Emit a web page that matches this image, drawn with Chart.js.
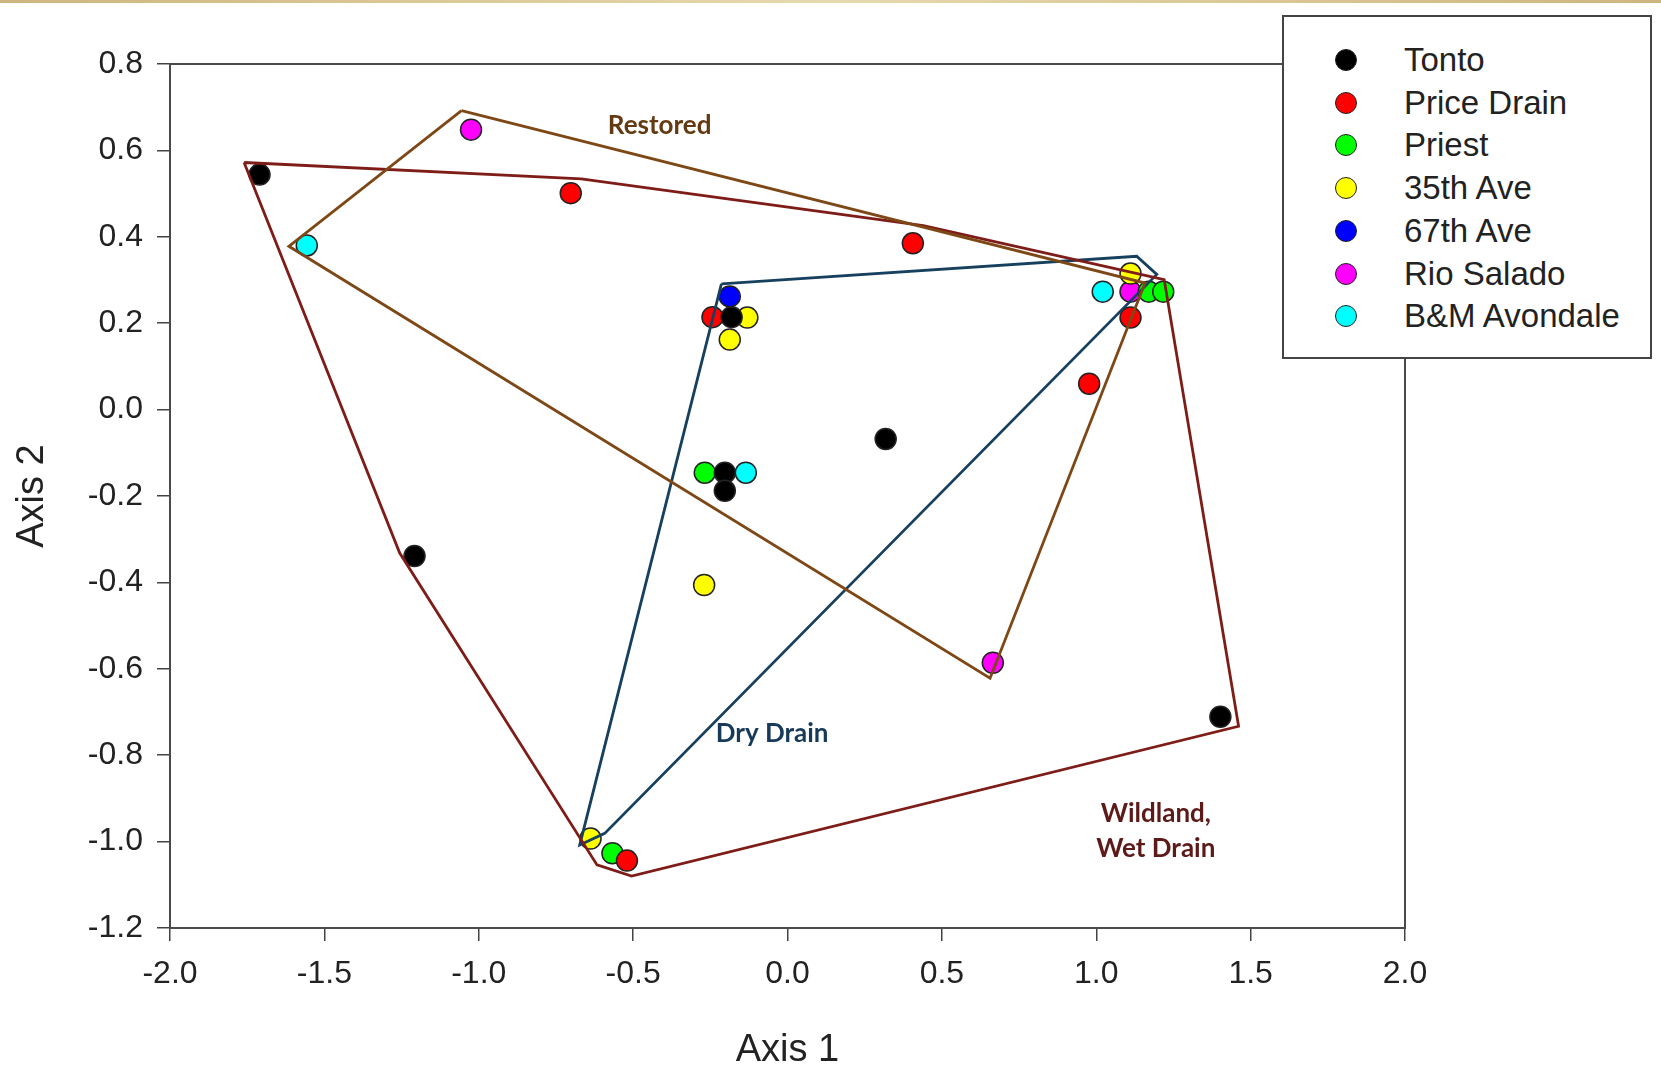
<!DOCTYPE html>
<html>
<head>
<meta charset="utf-8">
<title>Axis 1 / Axis 2</title>
<script src="https://cdn.jsdelivr.net/npm/chart.js@4.4.1/dist/chart.umd.min.js"></script>
<style>
  body { margin: 0; background: #fff; }
  #wrap { position: relative; width: 1661px; height: 1073px; overflow: hidden; }
  #topbar { position: absolute; left: 0; top: 0; width: 1661px; height: 3px;
    background: linear-gradient(to right, #cdb67e, #e6d9ad 50%, #cdb67e); }
  #legend { position: absolute; left: 1282px; top: 15px; width: 370px; height: 344px;
    box-sizing: border-box; border: 2px solid #444; background: #fff;
    font-family: "Liberation Sans", Arial, sans-serif; font-size: 33px; color: #222; }
  .row { position: absolute; left: 0; height: 40px; line-height: 40px; }
  .dot { position: absolute; left: 51px; top: 9px; width: 22px; height: 22px; border-radius: 50%;
    box-sizing: border-box; border: 1.5px solid #222; }
  .lbl { position: absolute; left: 120px; top: 0; white-space: nowrap; }
</style>
</head>
<body>
<div id="wrap">
  <canvas id="myChart" width="1661" height="1073"></canvas>
  <div id="topbar"></div>
  <div id="legend"></div>
</div>
<script>
// site scores, [axis 1, axis 2]
const tonto = [[-1.71, 0.544], [-1.208, -0.339], [-0.181, 0.214], [-0.203, -0.146], [-0.203, -0.188], [0.318, -0.068], [1.402, -0.711]];
const priceDrain = [[-0.702, 0.501], [0.406, 0.385], [-0.243, 0.214], [0.977, 0.06], [1.111, 0.213], [-0.52, -1.044]];
const priest = [[-0.268, -0.146], [-0.567, -1.027], [1.17, 0.273], [1.217, 0.273]];
const ave35 = [[-0.13, 0.213], [-0.187, 0.162], [1.111, 0.315], [-0.27, -0.406], [-0.638, -0.993]];
const ave67 = [[-0.187, 0.262]];
const rioSalado = [[-1.025, 0.648], [1.111, 0.273], [0.665, -0.586]];
const bmAvondale = [[-1.557, 0.38], [-0.135, -0.146], [1.021, 0.273]];

const siteNames = ['Tonto', 'Price Drain', 'Priest', '35th Ave', '67th Ave', 'Rio Salado', 'B&M Avondale'];
const siteData = [tonto, priceDrain, priest, ave35, ave67, rioSalado, bmAvondale];
const siteColors = ['#000000', '#ff0000', '#00ff00', '#ffff00', '#0000ff', '#ff00ff', '#00ffff'];

// group hulls (vertices in axis units)
const restoredHull = [[-1.056, 0.692], [1.158, 0.293], [0.656, -0.622], [-1.615, 0.378]];
const wildlandHull = [[-1.76, 0.572], [-0.668, 0.534], [0.44, 0.426], [1.22, 0.301], [1.461, -0.733], [-0.505, -1.08], [-0.617, -1.054], [-1.256, -0.332]];
const dryDrainHull = [[-0.214, 0.291], [1.131, 0.355], [1.196, 0.313], [-0.592, -0.981], [-0.673, -1.008]];
const hullColors = ['#7e4816', '#7e1c18', '#17405f'];

const groupLabels = [
  { text: 'Restored', x: -0.414, y: 0.658, color: '#643a12' },
  { text: 'Dry Drain', x: -0.05, y: -0.749, color: '#173a5a' },
  { text: 'Wildland,', x: 1.193, y: -0.935, color: '#5c1a18' },
  { text: 'Wet Drain', x: 1.193, y: -1.016, color: '#5c1a18' }
];

const xTicks = [-2.0, -1.5, -1.0, -0.5, 0.0, 0.5, 1.0, 1.5, 2.0];
const yTicks = [-1.2, -1.0, -0.8, -0.6, -0.4, -0.2, 0.0, 0.2, 0.4, 0.6, 0.8];

function toPts(arr) {
    return arr.map(p => ({ x: p[0], y: p[1] }));
}

let datasets = [];
for (i = 0; i < siteNames.length; i++) {
    datasets.push({
        label: siteNames[i],
        data: toPts(siteData[i]),
        backgroundColor: siteColors[i],
        borderColor: '#222',
        borderWidth: 1.5,
        pointRadius: 10.5,
        order: 2
    });
}
[restoredHull, wildlandHull, dryDrainHull].forEach((h, k) => {
    datasets.push({
        label: 'hull' + k,
        data: toPts(h.concat([h[0]])),
        showLine: true,
        borderColor: hullColors[k],
        borderWidth: 2.8,
        pointRadius: 0,
        fill: false,
        tension: 0,
        order: 1
    });
});

// frame around the plot + group names
const framePlugin = {
    id: 'frame',
    beforeDatasetsDraw(chart) {
        const a = chart.chartArea, ctx = chart.ctx;
        ctx.save();
        ctx.strokeStyle = '#4a4a4a';
        ctx.lineWidth = 2;
        ctx.strokeRect(a.left, a.top, a.right - a.left, a.bottom - a.top);
        ctx.restore();
    },
    afterDatasetsDraw(chart) {
        const ctx = chart.ctx;
        ctx.save();
        ctx.font = 'bold 26px Lato, "Open Sans", sans-serif';
        ctx.textAlign = 'center';
        ctx.textBaseline = 'middle';
        groupLabels.forEach(g => {
            ctx.fillStyle = g.color;
            ctx.fillText(g.text, chart.scales.x.getPixelForValue(g.x), chart.scales.y.getPixelForValue(g.y));
        });
        ctx.restore();
    }
};

const chartElement = document.getElementById('myChart');
new Chart(chartElement, {
    type: 'scatter',
    data: { datasets: datasets },
    options: {
        responsive: false,
        animation: false,
        layout: { padding: { left: 0, top: 64, right: 256, bottom: 0 } },
        plugins: { legend: { display: false }, tooltip: { enabled: false } },
        scales: {
            x: {
                min: -2, max: 2,
                afterBuildTicks: s => { s.ticks = xTicks.map(v => ({ value: v })); },
                afterFit: s => { s.height = 145; },
                border: { display: false },
                grid: { drawOnChartArea: false, drawTicks: true, tickLength: 13, color: '#444', lineWidth: 1.5 },
                ticks: { padding: 14, color: '#222', font: { family: '"Liberation Sans", Arial', size: 32 },
                    callback: v => v.toFixed(1), maxRotation: 0 },
                title: { display: true, text: 'Axis 1', color: '#222', padding: { top: 0, bottom: 0 },
                    font: { family: '"Liberation Sans", Arial', size: 38 } }
            },
            y: {
                min: -1.2, max: 0.8,
                afterBuildTicks: s => { s.ticks = yTicks.map(v => ({ value: v })); },
                afterFit: s => { s.width = 170; },
                border: { display: false },
                grid: { drawOnChartArea: false, drawTicks: true, tickLength: 13, color: '#444', lineWidth: 1.5 },
                ticks: { padding: 14, color: '#222', font: { family: '"Liberation Sans", Arial', size: 32 },
                    callback: v => v.toFixed(1) },
                title: { display: true, text: 'Axis 2', color: '#222', padding: { top: 10, bottom: 0 },
                    font: { family: '"Liberation Sans", Arial', size: 38 } }
            }
        }
    },
    plugins: [framePlugin]
});

// legend box
const legendBox = document.getElementById('legend');
for (i = 0; i < siteNames.length; i++) {
    const row = document.createElement('div');
    row.className = 'row';
    row.style.top = (23 + i * 42.7) + 'px';
    row.innerHTML = '<span class="dot" style="background:' + siteColors[i] + '"></span><span class="lbl"></span>';
    row.querySelector('.lbl').textContent = siteNames[i];
    legendBox.appendChild(row);
}
</script>
</body>
</html>
